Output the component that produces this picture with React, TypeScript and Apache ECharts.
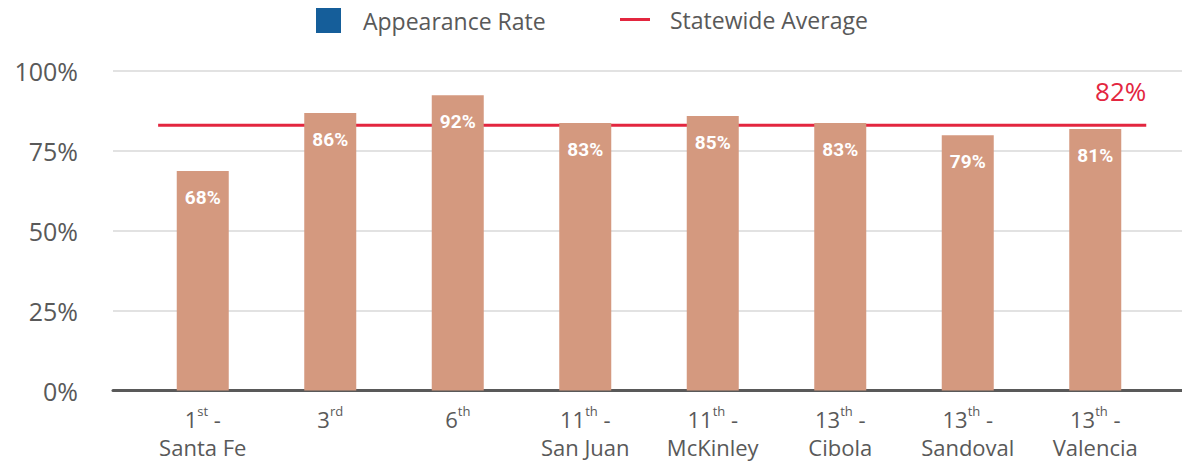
import React, { useEffect, useRef } from "react";
import * as echarts from "echarts";

const categories = ["1st - Santa Fe", "3rd", "6th", "11th - San Juan", "11th - McKinley", "13th - Cibola", "13th - Sandoval", "13th - Valencia"];
const ordinalNum = ["1", "3", "6", "11", "11", "13", "13", "13"];
const ordinalSuffix = ["st", "rd", "th", "th", "th", "th", "th", "th"];
const districtNames = ["Santa Fe", "", "", "San Juan", "McKinley", "Cibola", "Sandoval", "Valencia"];
const appearanceRate = [68.6, 86.7, 92.3, 83.6, 85.8, 83.6, 79.8, 81.7];
const statewideAverage = 82.9;
const yTicks = [0, 25, 50, 75, 100];

const FONT = "'Open Sans', 'Noto Sans', sans-serif";
const GREY = "#595959";

export default function App() {
  const ref = useRef<HTMLDivElement>(null);
  useEffect(() => {
    document.body.style.margin = "0";
    const chart = echarts.init(ref.current!, null, { renderer: "svg" });
    const labelFor = (i: number) => {
      const first = `{n|${ordinalNum[i]}}{s|${ordinalSuffix[i]}}`;
      return districtNames[i] ? `${first}{n| -}\n{n|${districtNames[i]}}` : first;
    };
    chart.setOption({
      animation: false,
      textStyle: { fontFamily: FONT },
      legend: [
        {
          data: [{ name: "Appearance Rate", icon: "rect", itemStyle: { color: "#155E9A" } }],
          left: 311,
          top: 3,
          itemWidth: 25,
          itemHeight: 25,
          textStyle: { fontSize: 23, color: GREY, fontFamily: FONT, padding: [0, 0, 0, 17] },
        },
        {
          data: [{ name: "Statewide Average", icon: "rect" }],
          left: 615,
          top: 3,
          itemWidth: 30,
          itemHeight: 3,
          textStyle: { fontSize: 23, color: GREY, fontFamily: FONT, padding: [0, 0, 0, 15] },
        },
      ],
      grid: [
        { left: 113, right: 0, top: 70.5, bottom: 72.5 },
        { left: 139, right: 23, top: 70.5, bottom: 72.5 },
      ],
      xAxis: [
        {
          gridIndex: 0,
          type: "value",
          min: 0,
          max: 1,
          axisLine: { show: true, lineStyle: { color: GREY, width: 3 } },
          axisTick: { show: false },
          axisLabel: { show: false },
          splitLine: { show: false },
        },
        {
          gridIndex: 1,
          type: "category",
          data: categories,
          axisLine: { show: false },
          axisTick: { show: false },
          axisLabel: {
            margin: 14,
            interval: 0,
            formatter: (_v: string, i: number) => labelFor(i),
            rich: {
              n: { fontSize: 22, color: GREY, fontFamily: FONT, lineHeight: 28 },
              s: { fontSize: 13, color: GREY, fontFamily: FONT, verticalAlign: "top", lineHeight: 28 },
            },
          },
        },
        { gridIndex: 1, type: "value", min: -0.5, max: 7.5, show: false },
      ],
      yAxis: [
        {
          gridIndex: 0,
          type: "value",
          min: yTicks[0],
          max: yTicks[yTicks.length - 1],
          interval: 25,
          axisLine: { show: false },
          axisTick: { show: false },
          axisLabel: { formatter: "{value}%", fontSize: 25, color: GREY, fontFamily: FONT, margin: 35 },
          splitLine: { lineStyle: { color: "#d9d9d9", width: 1.5 } },
        },
        { gridIndex: 1, type: "value", min: 0, max: 100, show: false },
      ],
      series: [
        {
          name: "Appearance Rate",
          type: "bar",
          xAxisIndex: 1,
          yAxisIndex: 1,
          data: appearanceRate,
          barWidth: 52,
          itemStyle: { color: "#D4997F" },
          label: {
            show: true,
            position: "insideTop",
            distance: 17,
            formatter: (p: any) => `${Math.floor(p.value)}%`,
            color: "#fff",
            fontSize: 19,
            fontWeight: "bold",
            fontFamily: "Roboto, sans-serif",
          },
          z: 2,
        },
        {
          name: "Statewide Average",
          type: "line",
          xAxisIndex: 2,
          yAxisIndex: 1,
          data: [[-0.35, statewideAverage], [7.4, statewideAverage]],
          symbol: "none",
          color: "#E3263F",
          lineStyle: { color: "#E3263F", width: 3 },
          z: 1,
          endLabel: {
            show: true,
            formatter: () => `${Math.floor(statewideAverage)}%`,
            color: "#E3263F",
            fontSize: 26,
            fontFamily: FONT,
            align: "right",
            verticalAlign: "bottom",
            distance: 0,
            offset: [0, -21],
          },
        },
      ],
    });
    return () => chart.dispose();
  }, []);
  return <div ref={ref} style={{ width: 1182, height: 463 }} />;
}
